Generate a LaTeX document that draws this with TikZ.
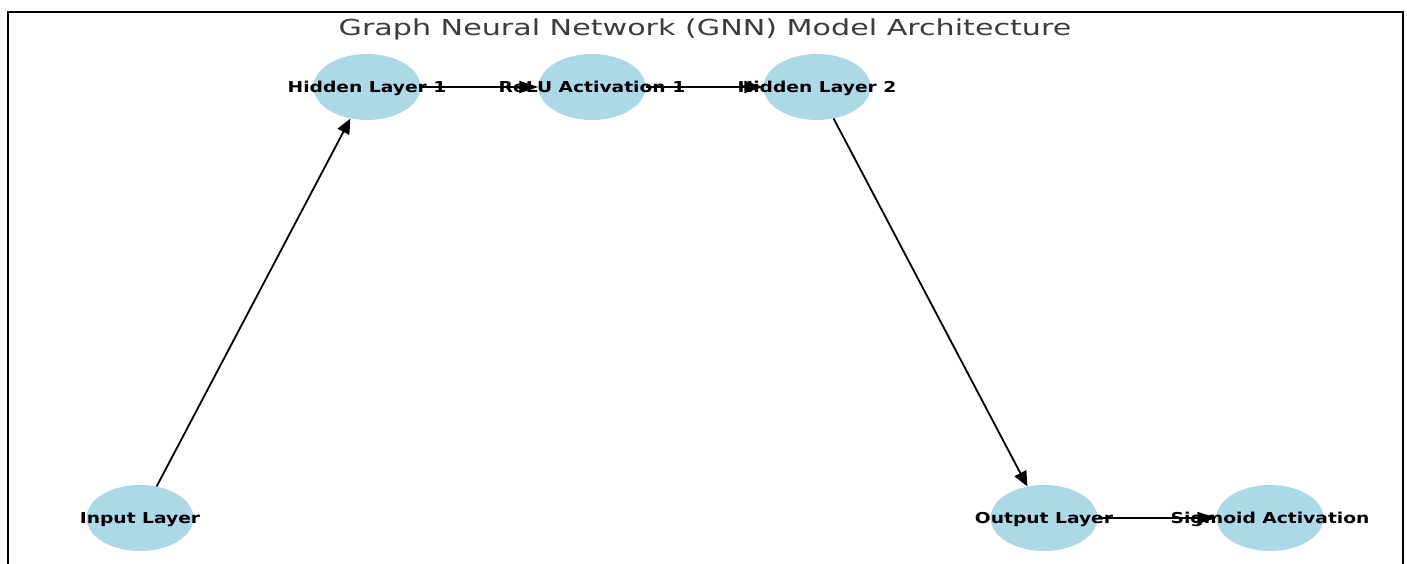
\documentclass[tikz,border=0pt]{standalone}
\usepackage{fontspec}
\setmainfont{DejaVu Sans}
\usetikzlibrary{shapes.geometric,arrows.meta}
\definecolor{nodeblue}{HTML}{ADD8E6}
\definecolor{titlegray}{HTML}{3C3C3C}
\begin{document}
\begin{tikzpicture}[x=1pt,y=-1pt,
  layer/.style={ellipse,fill=nodeblue,minimum width=107pt,minimum height=66pt,inner sep=0pt},
  lbl/.style={anchor=base,inner sep=0pt,font=\fontsize{15}{16}\selectfont\bfseries,xscale=1.245},
  edgeline/.style={line width=1.8pt,black},
  harrow/.style={edgeline,-{Triangle[length=19pt,width=12pt]}},
  darrow/.style={edgeline,-{Triangle[length=15pt,width=13pt]}}]
\useasboundingbox (0,0) rectangle (1407,564);
\draw[line width=2.5pt] (8,12) rectangle (1403,590);
\node[anchor=base,inner sep=0pt,text=titlegray,font=\fontsize{22}{24}\selectfont,xscale=1.37] (title) at (705,36) {Graph Neural Network (GNN) Model Architecture};
% nodes
\node[layer] (in) at (140,518) {};
\node[layer] (h1) at (367,87) {};
\node[layer] (relu) at (592,87) {};
\node[layer] (h2) at (817,87) {};
\node[layer] (out) at (1044,518) {};
\node[layer] (sig) at (1270,518) {};
% labels
\node[lbl] (inL) at (140,523.5) {Input Layer};
\node[lbl] (h1L) at (367,92.5) {Hidden Layer 1};
\node[lbl] (reluL) at (592,92.5) {ReLU Activation 1};
\node[lbl] (h2L) at (817,92.5) {Hidden Layer 2};
\node[lbl] (outL) at (1044,523.5) {Output Layer};
\node[lbl] (sigL) at (1270,523.5) {Sigmoid Activation};
% edges
\draw[darrow] (in) -- (h1);
\draw[harrow] (h1) -- (relu);
\draw[harrow] (relu) -- (h2);
\draw[darrow] (h2) -- (out);
\draw[harrow] (out) -- (sig);
\end{tikzpicture}
\end{document}
